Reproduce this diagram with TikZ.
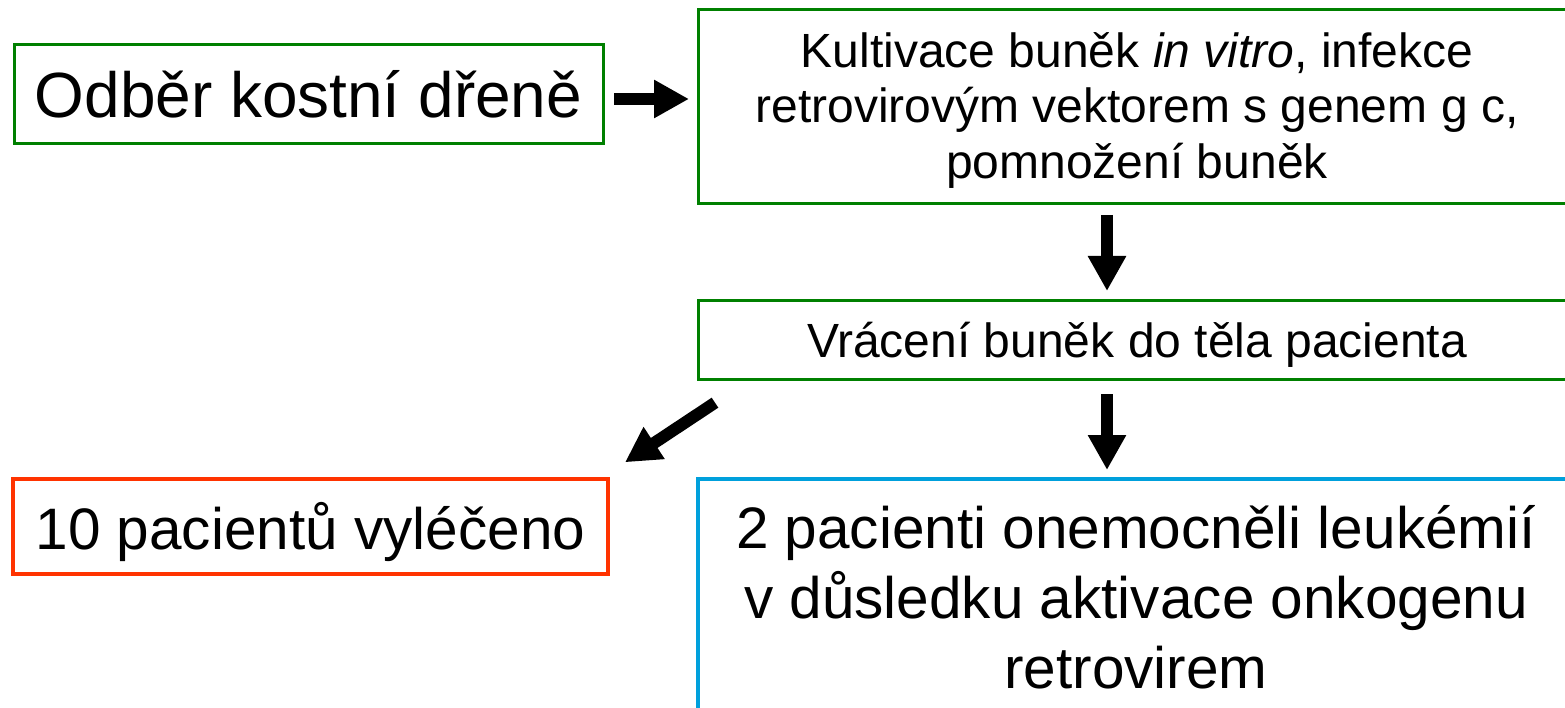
\documentclass[tikz,border=0pt]{standalone}
\usepackage{fontspec}
\setmainfont{Liberation Sans}
\usetikzlibrary{arrows.meta,calc}
\definecolor{boxgreen}{HTML}{008000}
\definecolor{boxred}{HTML}{FF3300}
\definecolor{boxblue}{HTML}{00A0DC}
\tikzset{
  box/.style={draw, rectangle, inner sep=0pt, outer sep=0pt, align=center, text=black},
  greenbox/.style={box, draw=boxgreen, line width=3pt},
  redbox/.style={box, draw=boxred, line width=4pt},
  bluebox/.style={box, draw=boxblue, line width=4pt},
  blockarrow/.style={draw=black, line width=12pt, -{Triangle[width=36pt,length=35pt]}},
}
\begin{document}
\begin{tikzpicture}[x=1pt,y=-1pt]
\clip (0,0) rectangle (1565,708);
\fill[white] (0,0) rectangle (1565,708);

\node[greenbox, minimum width=589pt, minimum height=99pt,
      font=\fontsize{63.9pt}{76pt}\selectfont] (odber) at (308.5,94.5)
  {\rule{0pt}{52pt}Odběr kostní dřeně\rule[-5pt]{0pt}{5pt}};

\node[greenbox, minimum width=878pt, minimum height=194pt,
      font=\fontsize{48pt}{55.5pt}\selectfont] (kult) at (1137,107)
  {\rule{0pt}{44pt}Kultivace buněk \textit{in vitro}, infekce\\
   retrovirovým vektorem s genem g c,\\
   pomnožení buněk\rule[-12pt]{0pt}{12pt}};

\node[greenbox, minimum width=878pt, minimum height=78pt,
      font=\fontsize{48pt}{56pt}\selectfont] (vraceni) at (1137,340)
  {\rule{0pt}{47pt}Vrácení buněk do těla pacienta\rule[-12pt]{0pt}{12pt}};

\node[redbox, minimum width=595pt, minimum height=95pt,
      font=\fontsize{58.5pt}{70pt}\selectfont] (vyleceno) at (310.5,526.5)
  {\rule{0pt}{59.6pt}10 pacientů vyléčeno\rule[-14pt]{0pt}{14pt}};

\node[bluebox, anchor=north, minimum width=876pt,
      font=\fontsize{58.5pt}{70pt}\selectfont] (onem) at (1136,479)
  {\rule{0pt}{69.3pt}2 pacienti onemocněli leukémií\\
   v důsledku aktivace onkogenu\\
   retrovirem\rule[-40pt]{0pt}{40pt}};

\draw[blockarrow] ($(odber.east)+(11,4.5)$) -- ($(kult.west)+(-9,-8)$);
\draw[blockarrow] ($(kult.south)+(-30,11)$) -- ($(vraceni.north)+(-30,-10)$);
\draw[blockarrow] ($(vraceni.south)+(-30,15)$) -- ($(onem.north)+(-29,-9)$);
\draw[blockarrow] ($(vraceni.south west)+(17,23.7)$) -- ($(vyleceno.north east)+(17,-16.7)$);
\end{tikzpicture}
\end{document}
